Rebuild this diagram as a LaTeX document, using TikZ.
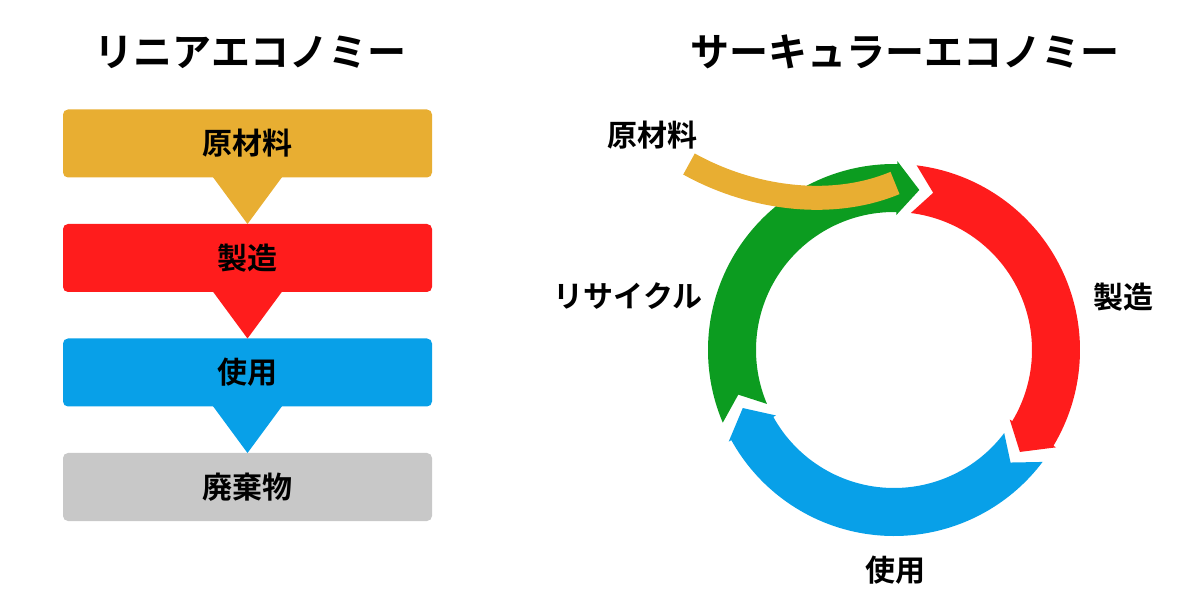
\documentclass[tikz,border=0pt]{standalone}
\usepackage{fontspec}
\setmainfont{Noto Sans CJK JP}[UprightFont={* Bold}]
\usepackage{tikz}
\usetikzlibrary{positioning}

\definecolor{rawgold}{RGB}{232,174,50}
\definecolor{makered}{RGB}{255,28,28}
\definecolor{useblue}{RGB}{8,160,232}
\definecolor{wastegray}{RGB}{200,200,200}
\definecolor{recyclegreen}{RGB}{12,156,32}

\begin{document}
\begin{tikzpicture}[x=1pt,y=1pt]
			\tikzstyle{stage} = [rectangle, rounded corners=5pt, minimum width=369pt, minimum height=68pt, inner sep=0pt, outer sep=0pt, font=\fontsize{30}{30}\selectfont]
			\tikzstyle{title} = [font=\fontsize{39}{39}\selectfont]
			\tikzstyle{label} = [font=\fontsize{30}{30}\selectfont]
			\useasboundingbox (0,0) rectangle (1200,595);
			% linear economy
			\node[title] (lineartitle) at (250,543) {リニアエコノミー};
			\node[stage, fill=rawgold] (raw) at (247.5,451.5) {原材料};
			\node[stage, fill=makered, below=46.5pt of raw] (make) {製造};
			\node[stage, fill=useblue, below=46.5pt of make] (use) {使用};
			\node[stage, fill=wastegray, below=46.5pt of use] (waste) {廃棄物};
			\fill[rawgold] ([xshift=-35pt,yshift=1pt]raw.south) -- ([xshift=35pt,yshift=1pt]raw.south) -- (make.north) -- cycle;
			\fill[makered] ([xshift=-35pt,yshift=1pt]make.south) -- ([xshift=35pt,yshift=1pt]make.south) -- (use.north) -- cycle;
			\fill[useblue] ([xshift=-35pt,yshift=1pt]use.south) -- ([xshift=35pt,yshift=1pt]use.south) -- (waste.north) -- cycle;
			% circular economy
			\node[title] (circulartitle) at (905,543) {サーキュラーエコノミー};
			\coordinate (hub) at (894,245);
			\begin{scope}[shift={(hub)}]
				\foreach \col/\t [evaluate=\t as \b using \t-114, evaluate=\t as \tip using \t-122, evaluate=\t as \notch using \t-7] in {makered/83, useblue/-37, recyclegreen/203}
				\fill[\col] (\t:186pt) arc[start angle=\t, end angle=\b, radius=186pt] -- (\b:189pt) -- (\tip:162pt) -- (\b:135pt) -- (\b:138pt) arc[start angle=\b, end angle=\t, radius=138pt] -- (\notch:162pt) -- cycle;
			\end{scope}
			\coordinate (rawstart) at (689,431);
			\coordinate (rawend) at (895,412);
			\draw[rawgold, line width=24pt] (rawstart) .. controls (750,397) and (830,385) .. (rawend);
			\node[label] (rawlabel) at (652,460) {原材料};
			\node[label] (makelabel) at (1123,298) {製造};
			\node[label] (uselabel) at (895,25) {使用};
			\node[label] (recyclelabel) at (628,299) {リサイクル};
\end{tikzpicture}
\end{document}
